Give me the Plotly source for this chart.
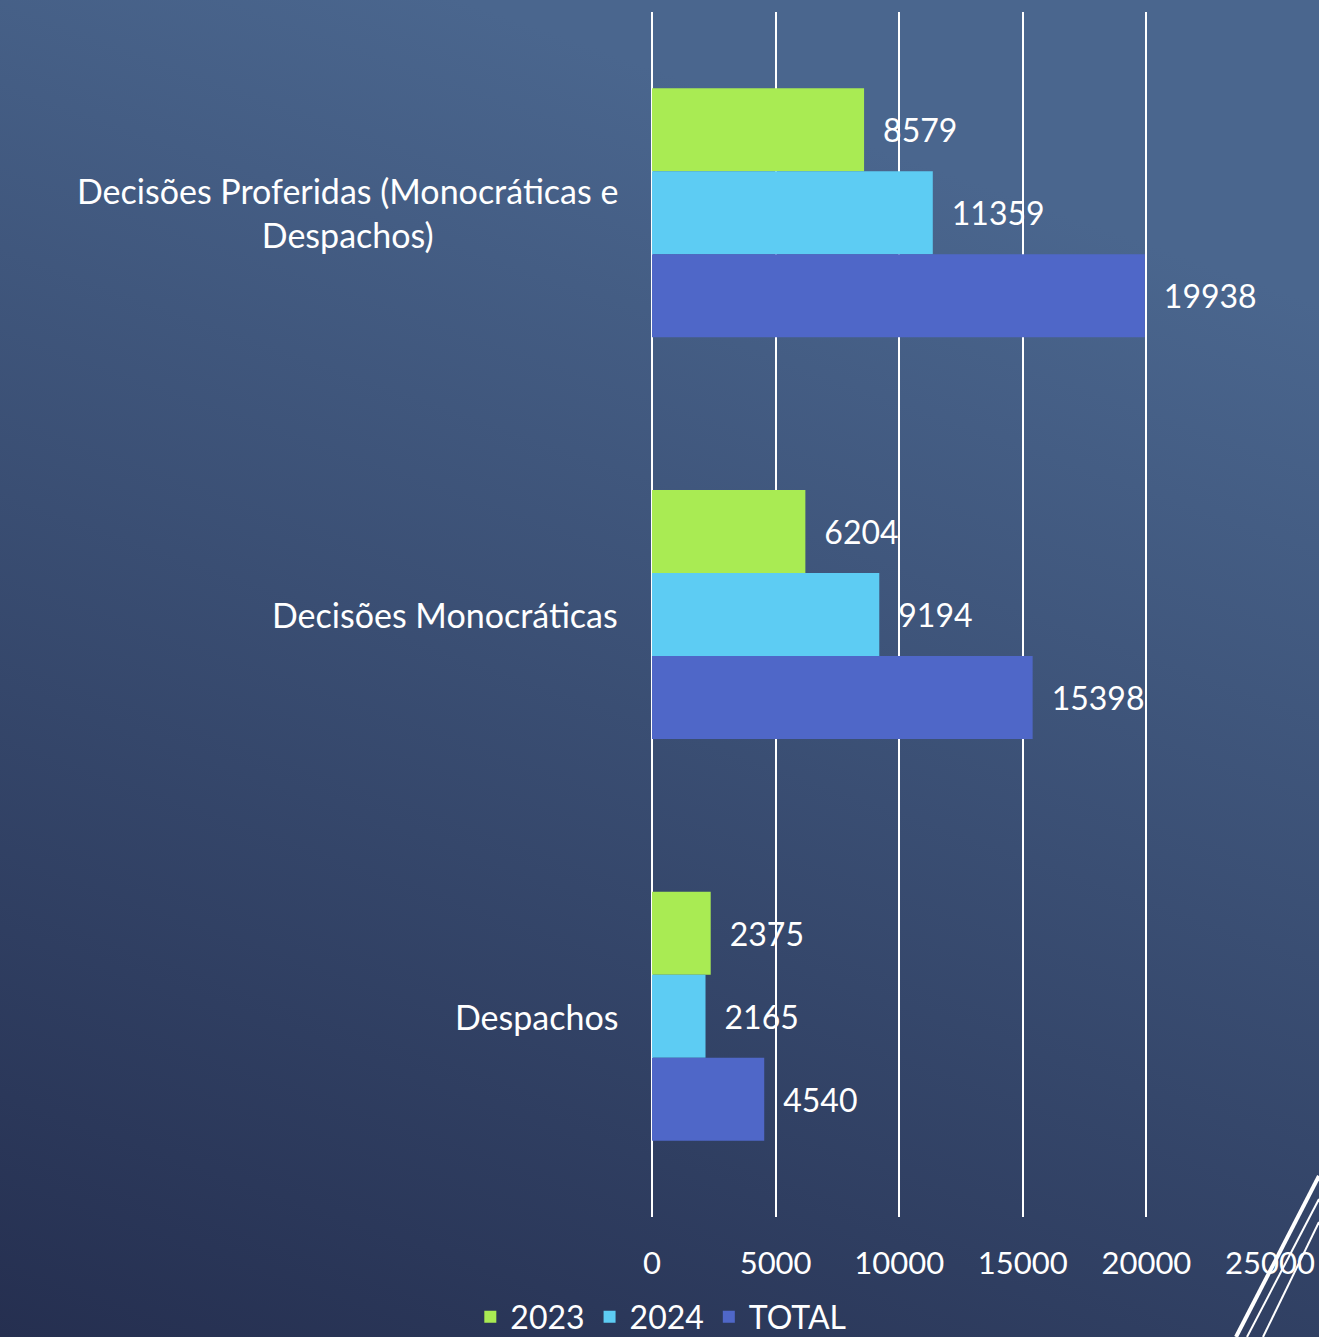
import base64
import plotly.graph_objects as go

categories = ['Decisões Proferidas (Monocráticas e<br>Despachos)', 'Decisões Monocráticas', 'Despachos']
series_names = ['2023', '2024', 'TOTAL']
values_2023 = [8579, 6204, 2375]
values_2024 = [11359, 9194, 2165]
values_total = [19938, 15398, 4540]
x_ticks = [0, 5000, 10000, 15000, 20000, 25000]

colors = ['#A9EB53', '#5DCCF3', '#4F67C8']
W, H = 1319, 1337
L, R, T, B = 652, 49, 12, 120
font_family = 'Lato, "Noto Sans", sans-serif'


def px_x(px):
    return (px - L) / (W - L - R)


def px_y(py):
    return 1 - (py - T) / (H - T - B)


svg = f'''<svg xmlns="http://www.w3.org/2000/svg" width="{W}" height="{H}" preserveAspectRatio="none">
<defs><linearGradient id="g" x1="0" y1="1" x2="0.35" y2="0">
<stop offset="0" stop-color="#252F50"/><stop offset="1" stop-color="#4A668E"/>
</linearGradient></defs><rect width="{W}" height="{H}" fill="url(#g)"/></svg>'''
bg_src = 'data:image/svg+xml;base64,' + base64.b64encode(svg.encode()).decode()

fig = go.Figure()
for name, vals, col in zip(series_names, [values_2023, values_2024, values_total], colors):
    fig.add_trace(go.Bar(
        y=categories, x=vals, name=name, orientation='h',
        marker=dict(color=col, line=dict(width=0)),
        text=['\u2002' + str(v) for v in vals], textposition='outside',
        textfont=dict(color='white', size=32, family=font_family),
        cliponaxis=False,
    ))

for cat in categories:
    fig.add_annotation(
        x=px_x(620), xref='paper', y=cat, yref='y', text=cat,
        xanchor='right', yanchor='middle', align='center', showarrow=False,
        font=dict(color='white', size=34, family=font_family),
    )

lines = [((1236, 1337), (1319, 1176), 4), ((1247, 1337), (1319, 1199), 2), ((1263, 1337), (1319, 1222), 2)]
for (x0, y0), (x1, y1), w in lines:
    fig.add_shape(type='line', xref='paper', yref='paper',
                  x0=px_x(x0), y0=px_y(y0), x1=px_x(x1), y1=px_y(y1),
                  line=dict(color='white', width=w))

fig.add_layout_image(dict(
    source=bg_src, xref='paper', yref='paper',
    x=px_x(0), y=px_y(0), sizex=W / (W - L - R), sizey=H / (H - T - B),
    xanchor='left', yanchor='top', sizing='stretch', layer='below',
))

fig.update_layout(
    width=W, height=H,
    margin=dict(l=L, r=R, t=T, b=B, autoexpand=False),
    barmode='group', bargap=0.38, bargroupgap=0,
    paper_bgcolor='#33415F', plot_bgcolor='rgba(0,0,0,0)',
    font=dict(family=font_family, color='white', size=32),
    legend=dict(orientation='h', xref='container', x=0.501, xanchor='center',
                yref='container', y=1 - 1317 / H, yanchor='middle',
                font=dict(size=32, color='white'), itemwidth=30,
                bgcolor='rgba(0,0,0,0)'),
    xaxis=dict(range=[0, 25000], tickvals=x_ticks, tickformat='d',
               showgrid=True, gridcolor='white', gridwidth=2,
               zeroline=True, zerolinecolor='white', zerolinewidth=2,
               ticklabelstandoff=25, tickfont=dict(size=31, color='white')),
    yaxis=dict(autorange='reversed', showticklabels=False, showgrid=False,
               zeroline=False),
)

fig.write_html('out.html', config={'displayModeBar': False},
               post_script="document.body.style.margin='0';document.body.style.overflow='hidden';")
